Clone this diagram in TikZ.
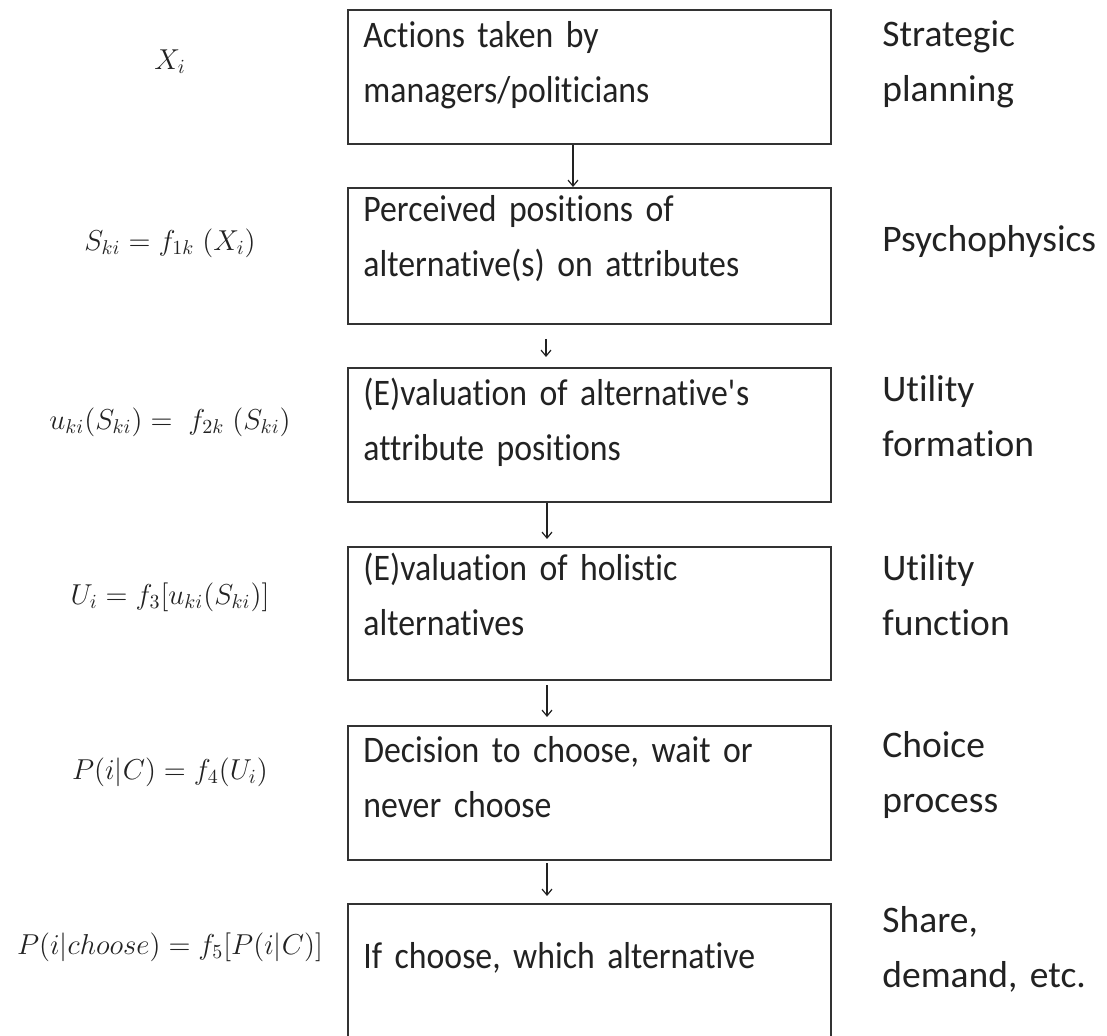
\documentclass[tikz,border=0pt]{standalone}
\usepackage{fontspec}
\setmainfont{Carlito}[Ligatures=NoCommon]
% slightly condensed face for the text inside the stage boxes
\newfontfamily\stagefont{Carlito}[Ligatures=NoCommon, FakeStretch=0.9, WordSpace=0.8]
\usetikzlibrary{arrows.meta}
\definecolor{inkgray}{HTML}{222222}
\definecolor{boxgray}{HTML}{333333}
\begin{document}
\begin{tikzpicture}[x=0.5pt,y=-0.5pt,
  stagebox/.style={draw=boxgray, line width=1pt, minimum width=241.5pt, inner sep=0pt},
  boxtext/.style={anchor=base west, inner sep=0pt, text width=230pt, align=left,
    text=inkgray, font=\stagefont\fontsize{18.75}{27.5}\selectfont},
  sidetext/.style={anchor=base west, inner sep=0pt, text width=115pt, align=left,
    text=inkgray, font=\fontsize{18.75}{27.5}\selectfont},
  formula/.style={anchor=center, inner sep=0pt, text=inkgray, font=\fontsize{14.5}{17}\selectfont},
  flow/.style={draw=inkgray, line width=0.6pt, -{Straight Barb[length=3pt,width=5pt]}}]
\useasboundingbox (0,0) rectangle (1107,1036);
\clip (0,0) rectangle (1107,1036);

% stage boxes
\node[stagebox, minimum height=67pt]   (b1) at (589.5,77)    {};
\node[stagebox, minimum height=68pt]   (b2) at (589.5,256)   {};
\node[stagebox, minimum height=67pt]   (b3) at (589.5,435)   {};
\node[stagebox, minimum height=66.5pt] (b4) at (589.5,613.5) {};
\node[stagebox, minimum height=67pt]   (b5) at (589.5,793)   {};
\node[stagebox, minimum height=70pt]   (b6) at (589.5,974)   {};

% box texts
\node[boxtext] (t1) at (363,48)  {Actions taken by\\managers/politicians};
\node[boxtext] (t2) at (363,222) {Perceived positions of\\alternative(s) on attributes};
\node[boxtext] (t3) at (363,406) {(E)valuation of alternative\textquotesingle s\\attribute positions};
\node[boxtext] (t4) at (363,581) {(E)valuation of holistic\\alternatives};
\node[boxtext] (t5) at (363,762) {Decision to choose, wait or\\never choose};
\node[boxtext] (t6) at (363,968) {If choose, which alternative};

% stage names on the right
\node[sidetext] (s1) at (882,47)  {Strategic\\planning};
\node[sidetext] (s2) at (882,252) {Psychophysics};
\node[sidetext] (s3) at (882,402) {Utility\\formation};
\node[sidetext] (s4) at (882,581) {Utility\\function};
\node[sidetext] (s5) at (882,757) {Choice\\process};
\node[sidetext] (s6) at (882,932) {Share,\\demand, etc.};

% model equations on the left
\node[formula] (f1) at (170,62)  {$X_i$};
\node[formula] (f2) at (170,243) {$S_{ki} = f_{1k}\;(X_i)$};
\node[formula] (f3) at (170,422) {$u_{ki}(S_{ki}) = \;f_{2k}\;(S_{ki})$};
\node[formula] (f4) at (170,597) {$U_i = f_3[u_{ki}(S_{ki})]$};
\node[formula] (f5) at (170,772) {$P(i|C) = f_4(U_i)$};
\node[formula] (f6) at (170,947) {$P(i|choose) = f_5[P(i|C)]$};

% arrows between stages
\draw[flow] ([xshift=-8.25pt]b1.south) -- ([xshift=-8.25pt]b2.north);
\draw[flow] ([xshift=-21.75pt,yshift=-7pt]b2.south) -- ([xshift=-21.75pt,yshift=5pt]b3.north);
\draw[flow] ([xshift=-21.25pt]b3.south) -- ([xshift=-21.25pt,yshift=3.5pt]b4.north);
\draw[flow] ([xshift=-21.25pt,yshift=-2pt]b4.south) -- ([xshift=-21.25pt,yshift=4pt]b5.north);
\draw[flow] ([xshift=-21.25pt,yshift=-1pt]b5.south) -- ([xshift=-21.25pt,yshift=3.5pt]b6.north);
\end{tikzpicture}
\end{document}
